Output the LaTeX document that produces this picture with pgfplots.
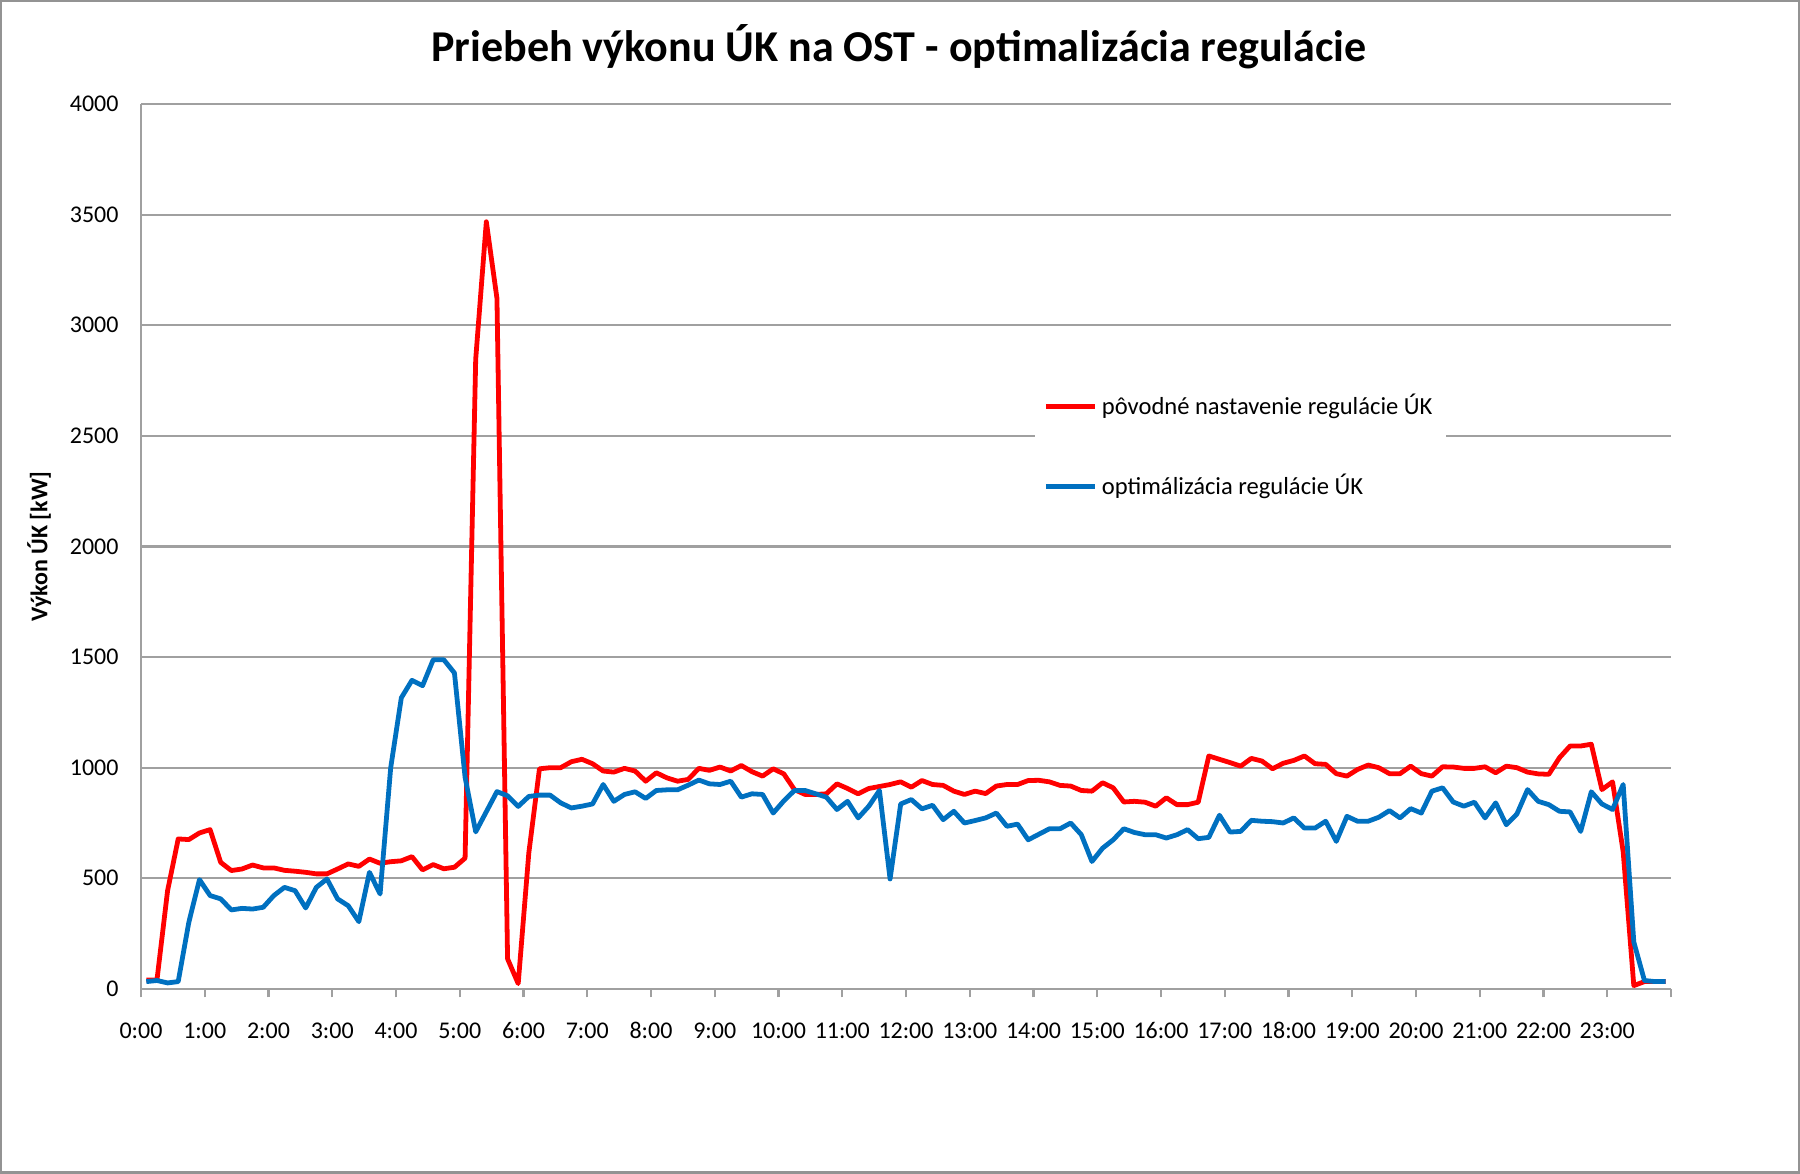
\documentclass[border=0pt]{standalone}
\usepackage{fontspec}
\setmainfont{Carlito}
\usepackage{pgfplots}
\usepackage{pgfplotstable}
\pgfplotsset{compat=1.18}

\definecolor{xlred}{RGB}{255,0,0}
\definecolor{xlblue}{RGB}{0,112,192}
\definecolor{gridgray}{RGB}{160,160,160}

% minutes of the day, original setting, optimised setting
\pgfplotstableread{
min red blue
5 40 33
15 40 38
25 444 27
35 678 33
45 675 301
55 705 494
65 720 422
75 572 407
85 535 357
95 542 364
105 560 361
115 547 369
125 547 422
135 536 459
145 532 444
155 527 366
165 520 459
175 520 497
185 542 407
195 565 376
205 554 304
215 587 527
225 568 429
235 575 1000
245 579 1316
255 598 1395
265 538 1371
275 562 1488
285 543 1488
295 550 1428
305 591 957
315 2847 710
325 3468 801
335 3122 892
345 136 873
355 24 825
365 615 870
375 995 876
385 1000 876
395 1000 841
405 1027 818
415 1038 826
425 1018 836
435 985 924
445 980 848
455 997 879
465 985 891
475 939 861
485 977 897
495 954 900
505 939 900
515 947 921
525 997 944
535 988 927
545 1003 924
555 985 939
565 1010 867
575 982 882
585 962 879
595 995 795
605 972 850
615 901 897
625 879 897
635 879 882
645 882 867
655 927 811
665 906 848
675 882 773
685 906 826
695 915 897
705 924 497
715 936 836
725 912 856
735 942 814
745 924 830
755 920 765
765 894 803
775 879 750
785 894 761
795 883 773
805 917 795
815 924 735
825 924 745
835 942 674
845 943 699
855 936 724
865 920 724
875 917 750
885 897 697
895 894 576
905 932 636
915 909 674
925 845 724
935 848 707
945 844 697
955 826 697
965 864 682
975 833 697
985 833 720
995 844 679
1005 1053 685
1015 1038 785
1025 1023 709
1035 1007 712
1045 1042 762
1055 1030 758
1065 995 756
1075 1020 750
1085 1033 773
1095 1053 727
1105 1018 727
1115 1015 758
1125 973 667
1135 962 780
1145 992 758
1155 1012 758
1165 1000 776
1175 973 806
1185 973 773
1195 1007 815
1205 973 795
1215 962 894
1225 1004 909
1235 1003 845
1245 997 826
1255 997 844
1265 1004 773
1275 977 841
1285 1007 742
1295 1000 791
1305 980 901
1315 972 848
1325 970 833
1335 1045 803
1345 1098 800
1355 1098 712
1365 1106 891
1375 901 836
1385 936 811
1395 620 924
1405 15 212
1415 33 38
1425 33 33
1435 33 33
}\datatable

\begin{document}
\begin{tikzpicture}
\begin{axis}[
    scale only axis,
    width=510.67pt, height=295.33pt,
    xmin=0, xmax=1440,
    ymin=0, ymax=4000,
    xtick={0,60,...,1440},
    xticklabels={0:00,1:00,2:00,3:00,4:00,5:00,6:00,7:00,8:00,9:00,10:00,11:00,12:00,13:00,14:00,15:00,16:00,17:00,18:00,19:00,20:00,21:00,22:00,23:00,},
    ytick={0,500,...,4000},
    axis x line*=bottom,
    axis y line*=left,
    axis line style={gridgray, line width=0.7pt},
    ymajorgrids,
    grid style={gridgray, line width=0.7pt},
    tick align=outside,
    major tick length=2.8pt,
    xtick style={gridgray, line width=0.7pt},
    ytick style={draw=none},
    ticklabel style={font=\fontsize{8}{9}\selectfont},
    xticklabel style={text height=5pt, text depth=0pt, yshift=-5.1pt},
    yticklabel style={xshift=-1.2pt},
    /pgf/number format/assume math mode=true,
    /pgf/number format/1000 sep={},
    title={Priebeh výkonu ÚK na OST - optimalizácia regulácie},
    every axis title/.style={font=\bfseries\fontsize{14.7}{17}\selectfont, at={(axis description cs:0.4954,1.0645)}, anchor=center},
    ylabel={Výkon ÚK [kW]},
    ylabel style={font=\bfseries\fontsize{8}{9}\selectfont, at={(axis description cs:-0.0666,0.5)}, anchor=center},
    legend style={at={(0.5836,0.697)}, anchor=north west, draw=none, fill=white,
        font=\fontsize{8.2}{9}\selectfont, row sep=14.4pt, inner xsep=3pt, inner ysep=5pt,
        nodes={inner xsep=1.5pt}},
    legend cell align=left,
    legend image code/.code={\draw[#1, line width=1.5pt] (0pt,0pt) -- (16.5pt,0pt);},
    every axis plot/.append style={line width=1.6pt, line join=round, no markers},
]
\addplot[xlred] table[x=min, y=red] {\datatable};
\addlegendentry{pôvodné nastavenie regulácie ÚK}
\addplot[xlblue] table[x=min, y=blue] {\datatable};
\addlegendentry{optimálizácia regulácie ÚK}
\end{axis}
\draw[gray!85, line width=0.8pt] (-46.67pt,-61.33pt) rectangle (553.33pt,329.67pt);
\end{tikzpicture}
\end{document}
